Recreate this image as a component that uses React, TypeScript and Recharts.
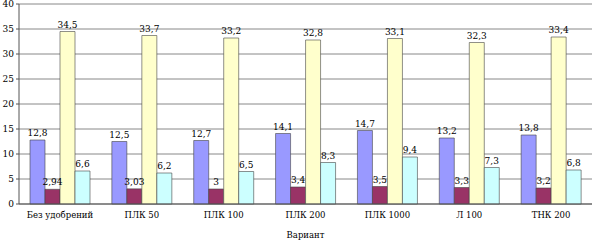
import React from "react";
import {
  BarChart,
  Bar,
  XAxis,
  YAxis,
  CartesianGrid,
  LabelList,
} from "recharts";

const variants = [
  "Без удобрений",
  "ПЛК 50",
  "ПЛК 100",
  "ПЛК 200",
  "ПЛК 1000",
  "Л 100",
  "ТНК 200",
];
const seriesA = [12.8, 12.5, 12.7, 14.1, 14.7, 13.2, 13.8];
const seriesB = [2.94, 3.03, 3, 3.4, 3.5, 3.3, 3.2];
const seriesC = [34.5, 33.7, 33.2, 32.8, 33.1, 32.3, 33.4];
const seriesD = [6.6, 6.2, 6.5, 8.3, 9.4, 7.3, 6.8];
const yTicks = [0, 5, 10, 15, 20, 25, 30, 35, 40];

const data = variants.map((name, i) => ({
  name,
  a: seriesA[i],
  b: seriesB[i],
  c: seriesC[i],
  d: seriesD[i],
}));

// Liberation Serif falls back to sans here, DejaVu Serif is the serif that works
const font = "DejaVu Serif";
const fmt = (v: any) => String(v).replace(".", ",");

const series = [
  { key: "a", fill: "#9999ff" },
  { key: "b", fill: "#993366" },
  { key: "c", fill: "#ffffcc" },
  { key: "d", fill: "#ccffff" },
];

export default function App() {
  return (
    <div
      style={{
        position: "fixed",
        left: 0,
        top: 0,
        background: "#fff",
        fontFamily: font,
      }}
    >
      <BarChart
        width={592}
        height={240}
        data={data}
        margin={{ top: 4, right: 0, left: 0, bottom: 0 }}
        barCategoryGap={11}
        barGap={0}
      >
        <CartesianGrid vertical={false} stroke="#888" strokeWidth={1} />
        <XAxis
          dataKey="name"
          height={36}
          tickLine={false}
          axisLine={{ stroke: "#555" }}
          tick={{ fontSize: 8.5, fill: "#000", fontFamily: font }}
          interval={0}
          label={{
            value: "Вариант",
            position: "insideBottom",
            offset: 2,
            fontSize: 8.5,
            fill: "#000",
            fontFamily: font,
          }}
        />
        <YAxis
          width={19}
          domain={[0, 40]}
          ticks={yTicks}
          interval={0}
          tickSize={3}
          tickMargin={2}
          axisLine={{ stroke: "#555" }}
          tickLine={{ stroke: "#555" }}
          tick={{ fontSize: 9, fill: "#000", fontFamily: font }}
        />
        {series.map((s) => (
          <Bar
            key={s.key}
            dataKey={s.key}
            fill={s.fill}
            stroke="#444"
            strokeWidth={0.6}
            isAnimationActive={false}
          >
            <LabelList
              dataKey={s.key}
              position="top"
              offset={4}
              formatter={fmt}
              style={{ fontSize: 9, fill: "#000", fontFamily: font }}
            />
          </Bar>
        ))}
      </BarChart>
    </div>
  );
}
